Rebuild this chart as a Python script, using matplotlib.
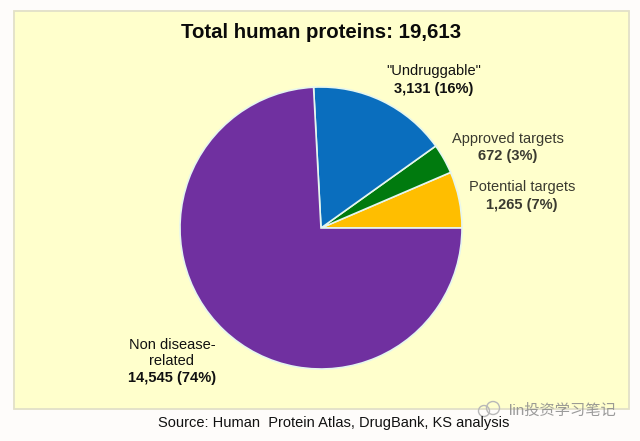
import matplotlib
matplotlib.use('Agg')
import matplotlib.patches as mpatches
import matplotlib.pyplot as plt

plt.rcParams['font.family'] = ['Liberation Sans', 'Noto Sans CJK SC', 'DejaVu Sans']

categories = ['Potential targets', 'Approved targets', '"Undruggable"', 'Non disease-\nrelated']
counts = [1265, 672, 3131, 14545]
value_labels = ['1,265 (7%)', '672 (3%)', '3,131 (16%)', '14,545 (74%)']
colors = ['#FFBE00', '#007A0E', '#0A6EBE', '#7030A0']
text_colors = ['#3A3A30', '#3A3A30', '#111111', '#111111']

# pixel positions of the label blocks (centre x, name y, value y)
label_pos = [(522, 187.5, 205), (508, 138.5, 156), (434, 70.5, 89), (172, 353, 378)]

W, H = 640, 441

fig = plt.figure(figsize=(W / 100, H / 100), dpi=100, facecolor='#FEFCFA')
ax = fig.add_axes([0, 0, 1, 1])
ax.set_xlim(0, W)
ax.set_ylim(0, H)
ax.axis('off')

panel = mpatches.Rectangle((13.5, H - 408.5), 615, 398, facecolor='#FFFFCC',
                           edgecolor='#E2E0C8', linewidth=1.3)
ax.add_patch(panel)

ax.pie(counts, colors=colors, startangle=0, counterclock=True, center=(321, H - 228),
       radius=141, wedgeprops={'edgecolor': '#E6F6EE', 'linewidth': 1.2}, frame=True)
ax.set_xlim(0, W)
ax.set_ylim(0, H)
ax.set_aspect('auto')
ax.axis('off')

ax.text(321, H - 32, 'Total human proteins: 19,613', fontsize=14.7, fontweight='bold',
        color='#0A0A0A', ha='center', va='center')

for name, val, pos, c in zip(categories, value_labels, label_pos, text_colors):
    ax.text(pos[0], H - pos[1], name, fontsize=10.5, color=c, ha='center', va='center',
            linespacing=1.2)
    ax.text(pos[0], H - pos[2], val, fontsize=10.5, fontweight='bold', color=c,
            ha='center', va='center')

ax.text(333.5, H - 423, 'Source: Human  Protein Atlas, DrugBank, KS analysis', fontsize=10.5,
        color='#111111', ha='center', va='center')

# watermark
ax.text(562, H - 411, 'lin投资学习笔记', fontsize=11, color='#8A8A8A', alpha=0.85,
        ha='center', va='center')
for cx, cy, r in [(484, 411, 5.5), (493, 408, 6.5)]:
    ax.add_patch(mpatches.Circle((cx, H - cy), r, facecolor='none', edgecolor='#B8B8B8', linewidth=1))

fig.savefig('out.png', dpi=100, facecolor=fig.get_facecolor())
